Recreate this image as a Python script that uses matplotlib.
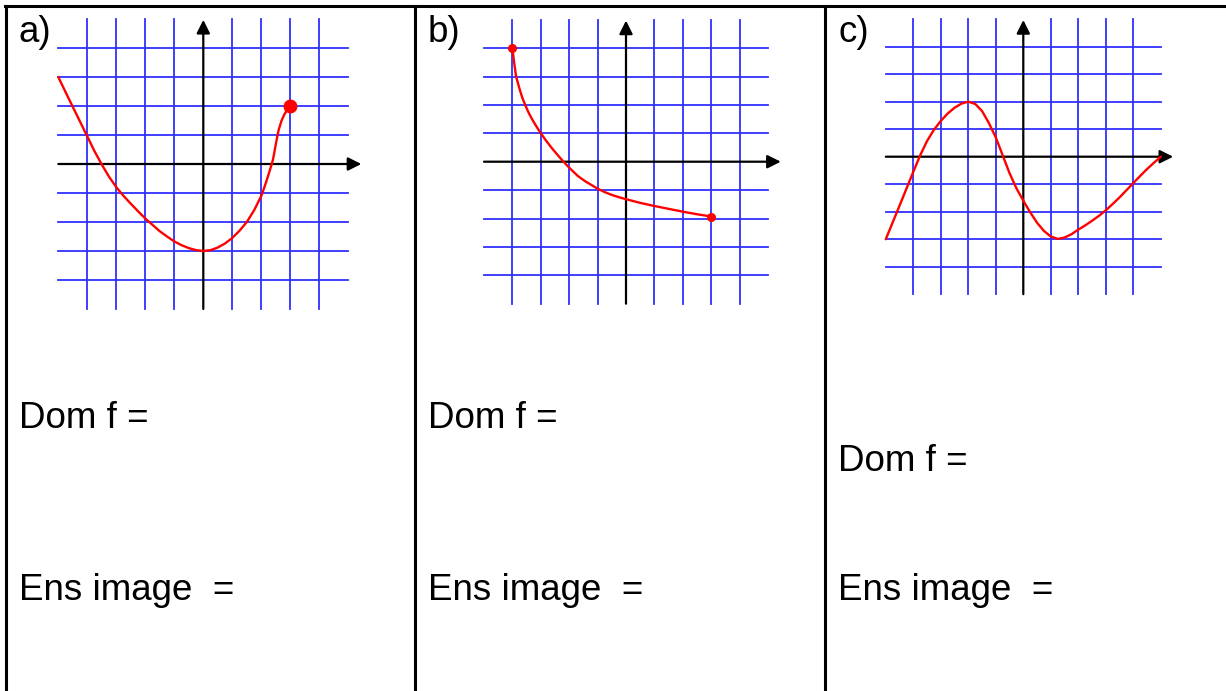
import matplotlib.pyplot as plt

W, H = 1226, 691

# curve readings (grid units), one list per exercise
a_x = [-5, -4.75, -4.5, -4.25, -4, -3.75, -3.5, -3.25, -3, -2.75, -2.5, -2.25, -2, -1.75, -1.5,
       -1.25, -1, -0.75, -0.5, -0.25, 0, 0.25, 0.5, 0.75, 1, 1.25, 1.5, 1.75, 2, 2.1, 2.2,
       2.3, 2.4, 2.45, 2.5, 2.55, 2.6, 2.7, 2.8, 2.9, 3]
a_y = [3, 2.48, 1.97, 1.46, 0.95, 0.44, -0.02, -0.44, -0.8, -1.1, -1.37, -1.63, -1.88, -2.1, -2.32,
       -2.5, -2.67, -2.8, -2.9, -2.97, -3.0, -2.97, -2.88, -2.74, -2.55, -2.3, -2.0, -1.6, -1.1, -0.82, -0.52,
       -0.2, 0.14, 0.4, 0.68, 0.94, 1.18, 1.5, 1.72, 1.88, 2.0]

b_x = [-4, -3.94, -3.87, -3.8, -3.73, -3.65, -3.55, -3.44, -3.31, -3.16, -3.0, -2.82, -2.63,
       -2.42, -2.2, -1.96, -1.7, -1.45, -1.25, -1, -0.75, -0.5, -0.25, 0, 0.5, 1, 1.5, 2, 2.5, 3]
b_y = [4, 3.5, 3.0, 2.75, 2.5, 2.25, 2.0, 1.75, 1.5, 1.25, 1.0, 0.75, 0.5,
       0.25, 0.0, -0.25, -0.5, -0.68, -0.8, -0.95, -1.07, -1.17, -1.25, -1.32, -1.45, -1.56, -1.66, -1.76, -1.85, -1.93]

c_x = [-5, -4.5, -4, -3.75, -3.5, -3.25, -3, -2.75, -2.5, -2.25, -2, -1.75, -1.5, -1.25, -1,
       -0.75, -0.5, -0.25, 0, 0.25, 0.5, 0.75, 1, 1.25, 1.5, 1.75, 2, 2.25, 2.5, 2.75, 3,
       3.25, 3.5, 3.75, 4, 4.25, 4.5, 4.75, 5]
c_y = [-3, -1.78, -0.55, 0.05, 0.57, 0.98, 1.3, 1.57, 1.78, 1.93, 2.0, 1.92, 1.66, 1.22, 0.7,
       0.05, -0.6, -1.15, -1.6, -2.02, -2.4, -2.7, -2.9, -2.99, -2.94, -2.82, -2.65, -2.5, -2.33, -2.15, -1.95,
       -1.72, -1.48, -1.22, -0.96, -0.7, -0.45, -0.22, 0]

labels = ["a)", "b)", "c)"]
dom_text = "Dom f ="
img_text = "Ens image  ="

plt.rcParams["font.family"] = ["Liberation Sans", "DejaVu Sans"]

fig = plt.figure(figsize=(W / 100, H / 100), dpi=100)

# page layer in pixel coordinates: table rules and text
page = fig.add_axes([0, 0, 1, 1])
page.set_xlim(0, W)
page.set_ylim(H, 0)
page.axis("off")

page.plot([5, W], [6, 6], color="black", lw=2.2)
for xs in [6, 415, 825]:
    page.plot([xs, xs], [6, H], color="black", lw=2.2)

label_x = [18, 428, 838]
text_x = [19, 428, 838]
dom_y = [428, 428, 471]
img_y = [600, 600, 600]
for i in range(3):
    page.text(label_x[i], 42, labels[i], fontsize=26.5, va="baseline", ha="left")
    page.text(text_x[i], dom_y[i], dom_text, fontsize=26.5, va="baseline", ha="left")
    page.text(text_x[i], img_y[i], img_text, fontsize=26.5, va="baseline", ha="left")


def graph_axes(ox, oy, u):
    x0, x1, y0, y1 = -5.6, 5.8, -5.3, 5.3
    left = (ox + x0 * u) / W
    bottom = 1 - (oy - y0 * u) / H
    ax = fig.add_axes([left, bottom, (x1 - x0) * u / W, (y1 - y0) * u / H])
    ax.set_xlim(x0, x1)
    ax.set_ylim(y0, y1)
    ax.axis("off")
    ax.patch.set_alpha(0)

    grid_c = "#3030ff"
    for k in [-4, -3, -2, -1, 1, 2, 3, 4]:
        ax.plot([-5, 5], [k, k], color=grid_c, lw=1.3)
        ax.plot([k, k], [-5, 5], color=grid_c, lw=1.3)

    arrow = dict(arrowstyle="-|>", mutation_scale=20, lw=1.6,
                 color="black", shrinkA=0, shrinkB=0)
    ax.annotate("", xy=(5.45, 0), xytext=(-5, 0), arrowprops=arrow)
    ax.annotate("", xy=(0, 4.97), xytext=(0, -5), arrowprops=arrow)
    return ax


ax_a = graph_axes(203.3, 164, 29)
ax_a.plot(a_x, a_y, color="red", lw=1.7, solid_capstyle="round", solid_joinstyle="round", zorder=5)
ax_a.plot(a_x[-1], a_y[-1], "o", color="red", ms=9, zorder=6)

ax_b = graph_axes(626, 161.7, 28.4)
ax_b.plot(b_x, b_y, color="red", lw=1.7, solid_capstyle="round", solid_joinstyle="round", zorder=5)
ax_b.plot([b_x[0], b_x[-1]], [b_y[0], b_y[-1]], "o", color="red", ms=5.5, zorder=6)

ax_c = graph_axes(1023.3, 156.7, 27.5)
ax_c.plot(c_x, c_y, color="red", lw=1.7, solid_capstyle="round", solid_joinstyle="round", zorder=5)

fig.savefig("out.png", dpi=100)
plt.close(fig)
